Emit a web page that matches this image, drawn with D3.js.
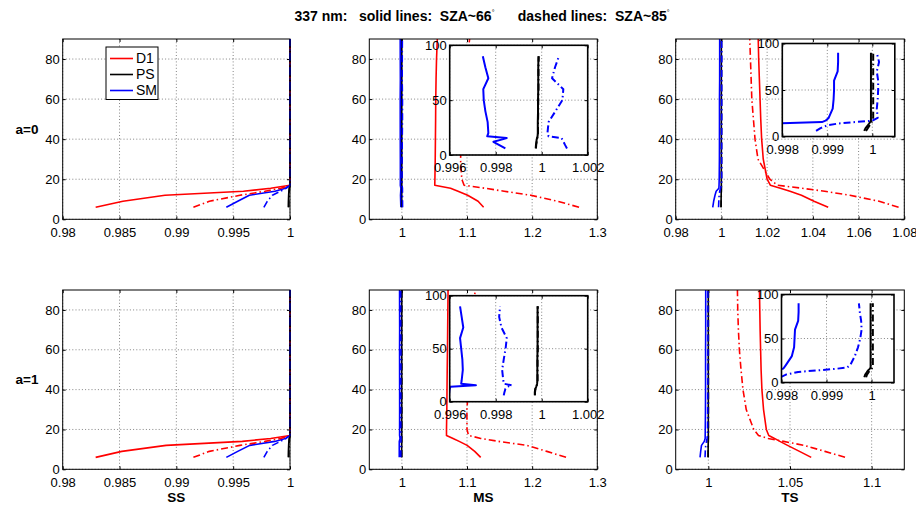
<!DOCTYPE html>
<html><head><meta charset="utf-8">
<script src="https://cdn.jsdelivr.net/npm/d3@7"></script>
<style>
body{margin:0;background:#fff;}
svg text{font-family:"Liberation Sans",Arial,Helvetica,sans-serif;}
</style></head><body>
<script>
// Altitude levels (km) shared by every profile
const altitude = [6, 9, 12, 14, 15.5, 17, 20, 30, 40, 50, 60, 70, 80, 90];
const models = ["D1", "PS", "SM"];
const modelColors = {D1: "#ff0000", PS: "#000000", SM: "#0000ff"};
const rowLabels = ["a=0", "a=1"];
const colLabels = ["SS", "MS", "TS"];

// SS, a=0  (suffix 66 = SZA~66, 85 = SZA~85)
const ss_a0_D1_66 = [0.9829, 0.9853, 0.9890, 0.9959, 0.9983, 1, 1, 1, 1, 1, 1, 1, 1, 1];
const ss_a0_D1_85 = [0.9915, 0.9929, 0.9956, 0.9978, 0.9992, 1, 1, 1, 1, 1, 1, 1, 1, 1];
const ss_a0_PS_66 = [0.99985, 0.99986, 0.99988, 0.9999, 0.99993, 1, 1, 1, 1, 1, 1, 1, 1, 1];
const ss_a0_PS_85 = [0.9999, 0.9999, 0.99992, 0.99994, 0.99996, 1, 1, 1, 1, 1, 1, 1, 1, 1];
const ss_a0_SM_66 = [0.9944, 0.9954, 0.99642, 0.99868, 0.9996, 1, 1, 1, 1, 1, 1, 1, 1, 1];
const ss_a0_SM_85 = [0.9977, 0.998, 0.99845, 0.99916, 0.99965, 1, 1, 1, 1, 1, 1, 1, 1, 1];

// SS, a=1
const ss_a1_D1_66 = [0.9829, 0.9852, 0.9891, 0.9958, 0.9983, 1, 1, 1, 1, 1, 1, 1, 1, 1];
const ss_a1_D1_85 = [0.9915, 0.9929, 0.9956, 0.9978, 0.9992, 1, 1, 1, 1, 1, 1, 1, 1, 1];
const ss_a1_PS_66 = [0.99985, 0.99986, 0.99988, 0.9999, 0.99993, 1, 1, 1, 1, 1, 1, 1, 1, 1];
const ss_a1_PS_85 = [0.9999, 0.9999, 0.99992, 0.99994, 0.99996, 1, 1, 1, 1, 1, 1, 1, 1, 1];
const ss_a1_SM_66 = [0.9944, 0.9954, 0.99645, 0.99866, 0.9996, 1, 1, 1, 1, 1, 1, 1, 1, 1];
const ss_a1_SM_85 = [0.9977, 0.998, 0.99845, 0.99916, 0.99965, 1, 1, 1, 1, 1, 1, 1, 1, 1];

// MS, a=0
const ms_a0_D1_66 = [1.1255, 1.117, 1.101, 1.0862, 1.0747, 1.0505, 1.0507, 1.0512, 1.0515, 1.0518, 1.052, 1.0525, 1.0532, 1.0544];
const ms_a0_D1_85 = [1.272, 1.2392, 1.198, 1.157, 1.1275, 1.0955, 1.092, 1.09, 1.092, 1.094, 1.096, 1.098, 1.1, 1.104];
const ms_a0_PS_66 = [0.99974, 0.99975, 0.99977, 0.99978, 0.9998, 0.99982, 0.99983, 0.99983, 0.99984, 0.99984, 0.99985, 0.99985, 0.99985, 0.99986];
const ms_a0_PS_85 = [0.99975, 0.99976, 0.99978, 0.99979, 0.99981, 0.99983, 0.99984, 0.99984, 0.99985, 0.99985, 0.99986, 0.99986, 0.99986, 0.99987];
const ms_a0_SM_66 = [0.99842, 0.99816, 0.9979, 0.99825, 0.99848, 0.99763, 0.99768, 0.99765, 0.99755, 0.99748, 0.99746, 0.99768, 0.99755, 0.99744];
const ms_a0_SM_85 = [1.0011, 1.00102, 1.00095, 1.0009, 1.00086, 1.0003, 1.00025, 1.0003, 1.0006, 1.0009, 1.00094, 1.00045, 1.00058, 1.00075];

// MS, a=1
const ms_a1_D1_66 = [1.121, 1.1118, 1.1002, 1.088, 1.0786, 1.0685, 1.0685, 1.069, 1.0693, 1.0696, 1.07, 1.0703, 1.0706, 1.0709];
const ms_a1_D1_85 = [1.252, 1.2226, 1.1921, 1.1485, 1.1212, 1.1023, 1.1, 1.0998, 1.102, 1.104, 1.106, 1.108, 1.11, 1.1125];
const ms_a1_PS_66 = [0.9997, 0.9997, 0.99972, 0.99976, 0.99978, 0.9998, 0.99981, 0.99981, 0.99981, 0.99982, 0.99982, 0.99982, 0.99982, 0.99982];
const ms_a1_PS_85 = [0.99971, 0.99971, 0.99973, 0.99977, 0.99979, 0.99981, 0.99982, 0.99982, 0.99982, 0.99983, 0.99983, 0.99983, 0.99983, 0.99983];
const ms_a1_SM_66 = [0.99597, 0.99598, 0.996, 0.99603, 0.99714, 0.9965, 0.99652, 0.99657, 0.99655, 0.9965, 0.99645, 0.99659, 0.99652, 0.99645];
const ms_a1_SM_85 = [0.99835, 0.99838, 0.99842, 0.9985, 0.9987, 0.99835, 0.99833, 0.99828, 0.99835, 0.99843, 0.99848, 0.99825, 0.99815, 0.99819];

// TS, a=0
const ts_a0_D1_66 = [1.0467, 1.0405, 1.035, 1.03, 1.0258, 1.0214, 1.02, 1.0183, 1.0176, 1.0172, 1.0169, 1.0166, 1.0163, 1.0161];
const ts_a0_D1_85 = [1.0775, 1.069, 1.0562, 1.0452, 1.0353, 1.0245, 1.0212, 1.016, 1.0147, 1.014, 1.0133, 1.013, 1.0127, 1.0124];
const ts_a0_PS_66 = [0.99982, 0.99985, 0.9999, 0.99993, 0.99995, 0.99997, 0.99997, 0.99997, 0.99997, 0.99997, 0.99997, 0.99997, 0.99997, 0.99997];
const ts_a0_PS_85 = [0.99986, 0.9999, 0.99994, 0.99996, 0.99998, 1.00002, 1.00002, 1.00002, 1.00002, 1.00002, 1.00002, 1.00002, 1.00002, 1.00002];
const ts_a0_SM_66 = [0.9962, 0.9966, 0.9972, 0.9977, 0.99888, 0.99896, 0.99903, 0.99912, 0.99914, 0.99915, 0.99915, 0.99923, 0.99924, 0.99924];
const ts_a0_SM_85 = [0.99875, 0.99885, 0.999, 0.99925, 0.99962, 1.0, 1.00012, 1.0001, 1.00012, 1.00013, 1.00013, 1.0001, 1.00015, 1.0001];

// TS, a=1
const ts_a1_D1_66 = [1.063, 1.0558, 1.0485, 1.0438, 1.0405, 1.037, 1.0355, 1.0338, 1.0328, 1.0323, 1.032, 1.0317, 1.0315, 1.0313];
const ts_a1_D1_85 = [1.0837, 1.0714, 1.0587, 1.0461, 1.0366, 1.0307, 1.0278, 1.0232, 1.0212, 1.02, 1.019, 1.0184, 1.018, 1.0178];
const ts_a1_PS_66 = [0.99984, 0.99986, 0.9999, 0.99993, 0.99996, 0.99998, 0.99998, 0.99998, 0.99998, 0.99998, 0.99998, 0.99998, 0.99998, 0.99998];
const ts_a1_PS_85 = [0.99988, 0.9999, 0.99994, 0.99997, 1.0, 1.00003, 1.00003, 1.00003, 1.00003, 1.00003, 1.00003, 1.00003, 1.00003, 1.00003];
const ts_a1_SM_66 = [0.9949, 0.9953, 0.9958, 0.9975, 0.99803, 0.99806, 0.9981, 0.99823, 0.99828, 0.99829, 0.9983, 0.99837, 0.99838, 0.99838];
const ts_a1_SM_85 = [0.99798, 0.9981, 0.99837, 0.99885, 0.9992, 0.99946, 0.99953, 0.99963, 0.9997, 0.99975, 0.99978, 0.99977, 0.99974, 0.99972];

// Tick values
const yTicks = [0, 20, 40, 60, 80];
const ssTicks = [0.98, 0.985, 0.99, 0.995, 1];
const msTicks = [1, 1.1, 1.2, 1.3];
const tsA0Ticks = [0.98, 1, 1.02, 1.04, 1.06, 1.08];
const tsA1Ticks = [1, 1.05, 1.1];
const insetMsTicks = [0.996, 0.998, 1, 1.002];
const insetTsTicks = [0.998, 0.999, 1];
const insetYTicks = [0, 50, 100];

// Panel layout (pixel boxes: left, top, right, bottom)
const colX = [[62.7, 290], [369.3, 597.3], [675.7, 904.3]];
const rowY = [[39, 219.3], [290, 469.3]];

const panels = [
  {row: 0, col: 0, xDomain: [0.98, 1], xTicks: ssTicks,
   data: {D1: [ss_a0_D1_66, ss_a0_D1_85], PS: [ss_a0_PS_66, ss_a0_PS_85], SM: [ss_a0_SM_66, ss_a0_SM_85]},
   legend: true},
  {row: 0, col: 1, xDomain: [0.95, 1.3], xTicks: msTicks,
   data: {D1: [ms_a0_D1_66, ms_a0_D1_85], PS: [ms_a0_PS_66, ms_a0_PS_85], SM: [ms_a0_SM_66, ms_a0_SM_85]},
   inset: {box: [449.7, 45.3, 587.7, 155], xDomain: [0.996, 1.002], xTicks: insetMsTicks}},
  {row: 0, col: 2, xDomain: [0.98, 1.08], xTicks: tsA0Ticks,
   data: {D1: [ts_a0_D1_66, ts_a0_D1_85], PS: [ts_a0_PS_66, ts_a0_PS_85], SM: [ts_a0_SM_66, ts_a0_SM_85]},
   inset: {box: [782.3, 43.5, 894.8, 136.5], xDomain: [0.998, 1.0005], xTicks: insetTsTicks}},
  {row: 1, col: 0, xDomain: [0.98, 1], xTicks: ssTicks,
   data: {D1: [ss_a1_D1_66, ss_a1_D1_85], PS: [ss_a1_PS_66, ss_a1_PS_85], SM: [ss_a1_SM_66, ss_a1_SM_85]}},
  {row: 1, col: 1, xDomain: [0.95, 1.3], xTicks: msTicks,
   data: {D1: [ms_a1_D1_66, ms_a1_D1_85], PS: [ms_a1_PS_66, ms_a1_PS_85], SM: [ms_a1_SM_66, ms_a1_SM_85]},
   inset: {box: [449.7, 295.7, 587.7, 401.7], xDomain: [0.996, 1.002], xTicks: insetMsTicks}},
  {row: 1, col: 2, xDomain: [0.98, 1.12], xTicks: tsA1Ticks,
   data: {D1: [ts_a1_D1_66, ts_a1_D1_85], PS: [ts_a1_PS_66, ts_a1_PS_85], SM: [ts_a1_SM_66, ts_a1_SM_85]},
   inset: {box: [781.5, 294.5, 894, 382.5], xDomain: [0.998, 1.0005], xTicks: insetTsTicks}}
];

const W = 916, H = 510;
const FONT = 13;
const svg = d3.select("body").append("svg").attr("width", W).attr("height", H);
const defs = svg.append("defs");
let clipId = 0;
const fmt = d => String(+d.toFixed(4));
const dashStyle = "7,3,1.5,3";

function clipRect(x0, y0, x1, y1) {
  const id = "clip" + (clipId++);
  defs.append("clipPath").attr("id", id).append("rect")
    .attr("x", x0).attr("y", y0).attr("width", x1 - x0).attr("height", y1 - y0);
  return `url(#${id})`;
}

// Frame, dotted grid, inward ticks and labels for one set of axes
function drawAxes(g, x, y, xTicks, yTickVals, box, labelPad) {
  const [x0, y0, x1, y1] = box;
  const grid = g.append("g").attr("stroke", "#333").attr("stroke-width", 0.6)
    .attr("stroke-dasharray", "1,2.2");
  grid.selectAll(".gx").data(xTicks).join("line")
    .attr("x1", d => x(d)).attr("x2", d => x(d)).attr("y1", y0).attr("y2", y1);
  grid.selectAll(".gy").data(yTickVals).join("line")
    .attr("y1", d => y(d)).attr("y2", d => y(d)).attr("x1", x0).attr("x2", x1);

  const style = a => a.attr("font-size", FONT).attr("font-family", null)
    .call(s => s.select(".domain").remove())
    .call(s => s.selectAll(".tick line").attr("stroke", "#000"))
    .call(s => s.selectAll(".tick text").attr("fill", "#000"));

  g.append("g").attr("transform", `translate(0,${y1})`)
    .call(d3.axisBottom(x).tickValues(xTicks).tickFormat(fmt).tickSizeInner(-3).tickSizeOuter(0).tickPadding(labelPad))
    .call(style);
  g.append("g").attr("transform", `translate(0,${y0})`)
    .call(d3.axisTop(x).tickValues(xTicks).tickFormat("").tickSizeInner(-3).tickSizeOuter(0))
    .call(style);
  g.append("g").attr("transform", `translate(${x0},0)`)
    .call(d3.axisLeft(y).tickValues(yTickVals).tickFormat(fmt).tickSizeInner(-3).tickSizeOuter(0).tickPadding(3))
    .call(style);
  g.append("g").attr("transform", `translate(${x1},0)`)
    .call(d3.axisRight(y).tickValues(yTickVals).tickFormat("").tickSizeInner(-3).tickSizeOuter(0))
    .call(style);
}

function drawProfiles(g, x, y, data, width) {
  const line = d3.line().x(d => x(d[0])).y(d => y(d[1]));
  [0, 1].forEach(k => {
    models.forEach(m => {
      const pts = data[m][k].map((v, i) => [v, altitude[i]]);
      g.append("path").attr("d", line(pts)).attr("fill", "none")
        .attr("stroke", modelColors[m]).attr("stroke-width", width)
        .attr("stroke-linejoin", "round")
        .attr("stroke-dasharray", k === 1 ? dashStyle : null);
    });
  });
}

panels.forEach(p => {
  const [x0, x1] = colX[p.col], [y0, y1] = rowY[p.row];
  const x = d3.scaleLinear().domain(p.xDomain).range([x0, x1]);
  const y = d3.scaleLinear().domain([0, 90]).range([y1, y0]);
  const g = svg.append("g");
  g.append("rect").attr("x", x0).attr("y", y0).attr("width", x1 - x0).attr("height", y1 - y0).attr("fill", "#fff");
  drawAxes(g, x, y, p.xTicks, yTicks, [x0, y0, x1, y1], 8);
  const lines = g.append("g").attr("clip-path", clipRect(x0 - 2, y0, x1 + 2, y1));
  drawProfiles(lines, x, y, p.data, 1.6);
  g.append("rect").attr("x", x0).attr("y", y0).attr("width", x1 - x0).attr("height", y1 - y0)
    .attr("fill", "none").attr("stroke", "#000").attr("stroke-width", 1);

  if (p.inset) {
    const [ix0, iy0, ix1, iy1] = p.inset.box;
    const ix = d3.scaleLinear().domain(p.inset.xDomain).range([ix0, ix1]);
    const iy = d3.scaleLinear().domain([0, 100]).range([iy1, iy0]);
    const ig = g.append("g");
    ig.append("rect").attr("x", ix0).attr("y", iy0).attr("width", ix1 - ix0).attr("height", iy1 - iy0).attr("fill", "#fff");
    drawAxes(ig, ix, iy, p.inset.xTicks, insetYTicks, [ix0, iy0, ix1, iy1], 8);
    const il = ig.append("g").attr("clip-path", clipRect(ix0, iy0, ix1, iy1));
    drawProfiles(il, ix, iy, p.data, 2);
    ig.append("rect").attr("x", ix0).attr("y", iy0).attr("width", ix1 - ix0).attr("height", iy1 - iy0)
      .attr("fill", "none").attr("stroke", "#000").attr("stroke-width", 1.6);
  }

  if (p.legend) {
    const lg = g.append("g");
    lg.append("rect").attr("x", 106).attr("y", 47).attr("width", 52).attr("height", 52.5)
      .attr("fill", "#fff").attr("stroke", "#000").attr("stroke-width", 1);
    models.forEach((m, i) => {
      const ly = 58.5 + i * 16;
      lg.append("line").attr("x1", 110).attr("x2", 133).attr("y1", ly).attr("y2", ly)
        .attr("stroke", modelColors[m]).attr("stroke-width", 1.6);
      lg.append("text").attr("x", 136).attr("y", ly + 4.8).attr("font-size", 14).text(m);
    });
  }
});

// Row and column labels
rowLabels.forEach((t, i) => {
  svg.append("text").attr("x", 27).attr("y", (rowY[i][0] + rowY[i][1]) / 2 + 4.5)
    .attr("text-anchor", "middle").attr("font-size", 13.5).attr("font-weight", "bold").text(t);
});
colLabels.forEach((t, i) => {
  svg.append("text").attr("x", (colX[i][0] + colX[i][1]) / 2).attr("y", 502)
    .attr("text-anchor", "middle").attr("font-size", 13.5).attr("font-weight", "bold").text(t);
});

// Title with superscript degree marks
const title = svg.append("text").attr("x", 482).attr("y", 21).attr("text-anchor", "middle")
  .attr("font-size", 14).attr("font-weight", "bold").style("white-space", "pre");
title.append("tspan").text("337 nm:   solid lines:  SZA~66");
title.append("tspan").attr("dy", -6).attr("font-size", 7).attr("font-weight", "normal").text("°");
title.append("tspan").attr("dy", 6).text("      dashed lines:  SZA~85");
title.append("tspan").attr("dy", -6).attr("font-size", 7).attr("font-weight", "normal").text("°");
</script>
</body></html>
